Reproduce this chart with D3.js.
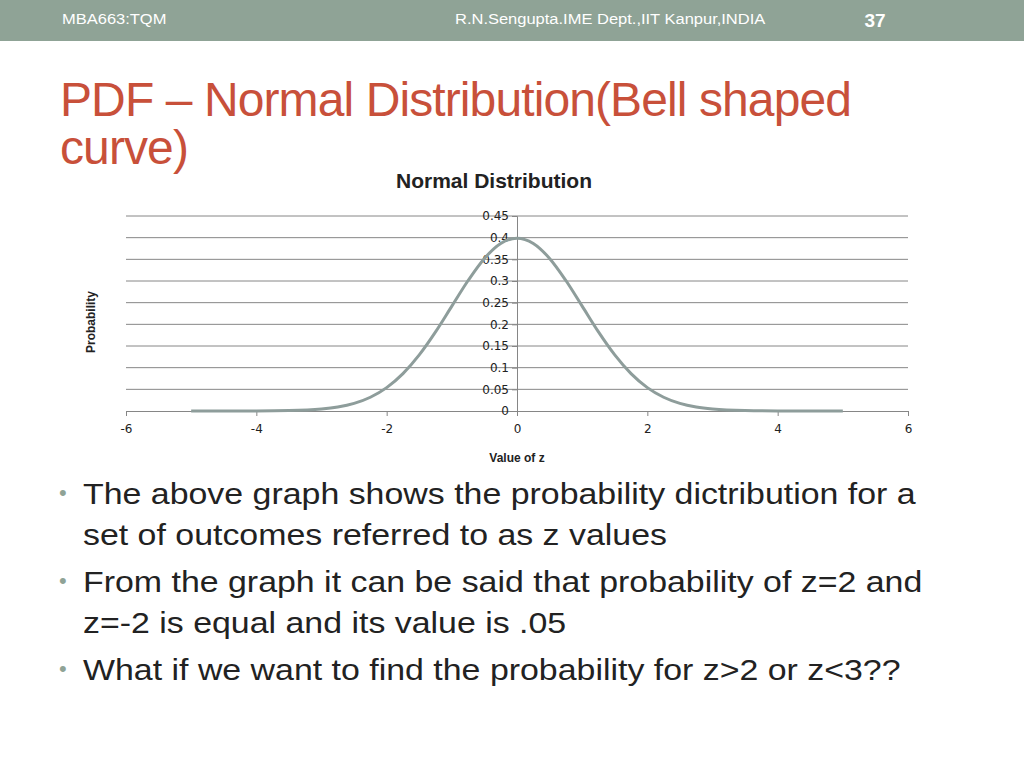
<!DOCTYPE html>
<html><head><meta charset="utf-8">
<script src="https://cdn.jsdelivr.net/npm/d3@7"></script>
<style>body{margin:0;background:#fff}svg{display:block;font-family:"Liberation Sans",Arial,sans-serif}</style>
</head><body><svg width="1024" height="768"></svg>
<script>
var zValues = [-5, -4.5, -4, -3.5, -3, -2.75, -2.5, -2.25, -2, -1.75, -1.5, -1.25, -1, -0.75, -0.5, -0.25, 0,
  0.25, 0.5, 0.75, 1, 1.25, 1.5, 1.75, 2, 2.25, 2.5, 2.75, 3, 3.5, 4, 4.5, 5];
var probValues = [0.000001, 0.000016, 0.000134, 0.00087, 0.0044, 0.0091, 0.0175, 0.0317, 0.054, 0.0863, 0.1295, 0.1826, 0.242, 0.3011, 0.3521, 0.3867, 0.3989,
  0.3867, 0.3521, 0.3011, 0.242, 0.1826, 0.1295, 0.0863, 0.054, 0.0317, 0.0175, 0.0091, 0.0044, 0.00087, 0.000134, 0.000016, 0.000001];
var yTicks = [0, 0.05, 0.1, 0.15, 0.2, 0.25, 0.3, 0.35, 0.4, 0.45];
var xTicks = [-6, -4, -2, 0, 2, 4, 6];
var bullets = [
  ["The above graph shows the probability dictribution for a", "set of outcomes referred to as z values"],
  ["From the graph it can be said that probability of z=2 and", "z=-2 is equal and its value is .05"],
  ["What if we want to find the probability for z>2 or z<3??"]
];

var svg = d3.select("svg");
svg.append("rect").attr("width", 1024).attr("height", 41).attr("fill", "#8fa396");
function wide(x0, y0, s) { return svg.append("g").attr("transform", "translate(" + x0 + "," + y0 + ") scale(" + s + ",1)"); }
wide(62, 24, 1.1).append("text").attr("fill", "#fff").style("font-size", "15px").text("MBA663:TQM");
wide(455, 24, 1.1).append("text").attr("fill", "#fff").style("font-size", "15px").text("R.N.Sengupta.IME Dept.,IIT Kanpur,INDIA");
svg.append("text").attr("x", 875).attr("y", 27).attr("fill", "#fff").attr("text-anchor", "middle").style("font-size", "19px").style("font-weight", "bold").text("37");

var title = svg.append("text").attr("fill", "#c8503a").style("font-size", "48px").style("letter-spacing", "-0.9px");
title.append("tspan").attr("x", 60).attr("y", 116).text("PDF – Normal Distribution(Bell shaped");
title.append("tspan").attr("x", 60).attr("y", 164).text("curve)");

var x = d3.scaleLinear().domain([-6, 6]).range([126, 908]);
var y = d3.scaleLinear().domain([0, 0.45]).range([411, 216]);

svg.append("g").selectAll("line").data(yTicks.slice(1)).enter().append("line")
  .attr("x1", x(-6)).attr("x2", x(6)).attr("y1", d => y(d)).attr("y2", d => y(d))
  .attr("stroke", "#868686").attr("stroke-width", 1);

svg.append("g").attr("transform", "translate(0," + y(0) + ")")
  .call(d3.axisBottom(x).tickValues(xTicks).tickSize(5).tickPadding(8).tickFormat(d => String(d)))
  .call(g => g.select(".domain").attr("stroke", "#868686"))
  .call(g => g.selectAll("line").attr("stroke", "#868686"))
  .call(g => g.selectAll("text").style("font-size", "12px").style("font-family", "DejaVu Sans").attr("fill", "#222"));

svg.append("g").attr("transform", "translate(" + x(0) + ",0)")
  .call(d3.axisLeft(y).tickValues(yTicks).tickSize(5).tickPadding(3).tickFormat(d => d))
  .call(g => g.select(".domain").attr("stroke", "#868686"))
  .call(g => g.selectAll("line").attr("stroke", "#868686"))
  .call(g => g.selectAll("text").style("font-size", "12px").style("font-family", "DejaVu Sans").attr("fill", "#222"));

var line = d3.line().x((d, i) => x(zValues[i])).y(d => y(d)).curve(d3.curveMonotoneX);
svg.append("path").datum(probValues).attr("d", line).attr("fill", "none")
  .attr("stroke", "#8e9d9b").attr("stroke-width", 3);

svg.append("text").attr("x", 494).attr("y", 188).attr("text-anchor", "middle")
  .style("font-size", "21px").style("font-weight", "bold").attr("fill", "#222").text("Normal Distribution");
svg.append("text").attr("transform", "translate(95,322) rotate(-90)").attr("text-anchor", "middle")
  .style("font-size", "12px").style("font-weight", "bold").attr("fill", "#222").text("Probability");
svg.append("text").attr("x", 517).attr("y", 462).attr("text-anchor", "middle")
  .style("font-size", "12px").style("font-weight", "bold").attr("fill", "#222").text("Value of z");

var by = [504, 592, 680];
bullets.forEach(function (b, i) {
  svg.append("text").attr("x", 59).attr("y", by[i] - 4).attr("fill", "#8fa396").style("font-size", "22px").text("•");
  b.forEach(function (t, j) {
    wide(83, by[i] + j * 41, 1.13).append("text").attr("fill", "#222")
      .style("font-size", "30px").text(t);
  });
});
</script></body></html>
